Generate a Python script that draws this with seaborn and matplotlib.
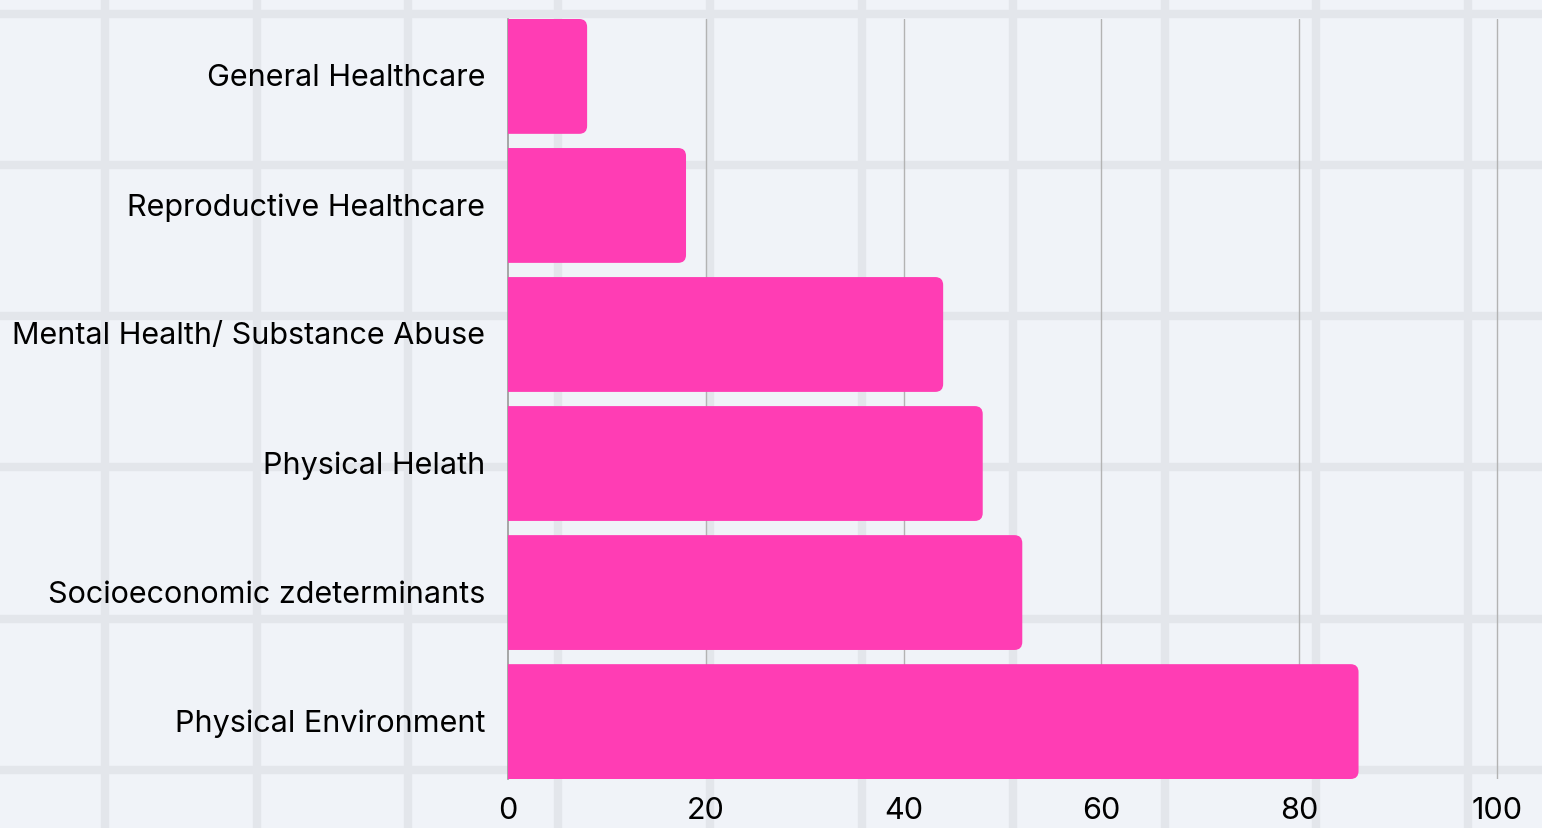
import matplotlib
matplotlib.use("Agg")
import matplotlib.pyplot as plt
import matplotlib.transforms as mtransforms
import seaborn as sns
import pandas as pd
from matplotlib.patches import FancyBboxPatch

categories = ["General Healthcare", "Reproductive Healthcare", "Mental Health/ Substance Abuse",
              "Physical Helath", "Socioeconomic zdeterminants", "Physical Environment"]
values = [8, 18, 44, 48, 52, 86]
xticks = [0, 20, 40, 60, 80, 100]

df = pd.DataFrame({"category": categories, "value": values})

sns.set_style("white")
plt.rcParams["font.family"] = ["Inter", "DejaVu Sans"]

bg = "#f0f3f8"
pink = "#ff3db4"

fig = plt.figure(figsize=(15.42, 8.29), dpi=100)
fig.patch.set_facecolor(bg)

# background decoration grid (figure-wide)
back = fig.add_axes([0, 0, 1, 1])
back.set_xlim(0, 1542)
back.set_ylim(829, 0)
back.axis("off")
back.set_facecolor(bg)
for x in [105, 257, 408, 558, 710, 862, 1013, 1165, 1316, 1468]:
    back.axvline(x, color="#e3e6eb", lw=6, zorder=0)
for y in [15, 166, 317, 468, 620, 771]:
    back.axhline(y, color="#e3e6eb", lw=6, zorder=0)

ax = fig.add_axes([508 / 1542, 49 / 829, 1 - 508 / 1542, 760 / 829])
ax.patch.set_alpha(0)
sns.barplot(data=df, x="value", y="category", color=pink, width=0.89, ax=ax, zorder=3)

# swap plain bars for rounded ones
for p in list(ax.patches):
    x0, y0 = p.get_x(), p.get_y()
    w, h = p.get_width(), p.get_height()
    r = FancyBboxPatch((x0 - 2, y0), w + 2, h,
                       boxstyle="round,pad=0,rounding_size=0.8",
                       mutation_aspect=0.077, fc=pink, ec="none", zorder=3)
    p.remove()
    ax.add_patch(r)

ax.set_xlim(0, 104.55)
ax.set_ylim(5.445, -0.445)
ax.set_xticks(xticks)
ax.set_xticklabels([str(t) for t in xticks])
for t in xticks[1:]:
    ax.axvline(t, color="#b3b3b3", lw=1, zorder=1)
for s in ["top", "right", "bottom"]:
    ax.spines[s].set_visible(False)
ax.spines["left"].set_color("#999999")
ax.spines["left"].set_linewidth(1.2)
ax.set_xlabel("")
ax.set_ylabel("")
ax.tick_params(axis="both", length=0, labelsize=22, colors="black")
ax.tick_params(axis="y", pad=16.5)
ax.tick_params(axis="x", pad=12)

# nudge y labels up a little
shift = mtransforms.ScaledTranslation(0, 2 / 100, fig.dpi_scale_trans)
for lab in ax.get_yticklabels():
    lab.set_transform(lab.get_transform() + shift)

fig.savefig("out.png", dpi=100, facecolor=bg)
